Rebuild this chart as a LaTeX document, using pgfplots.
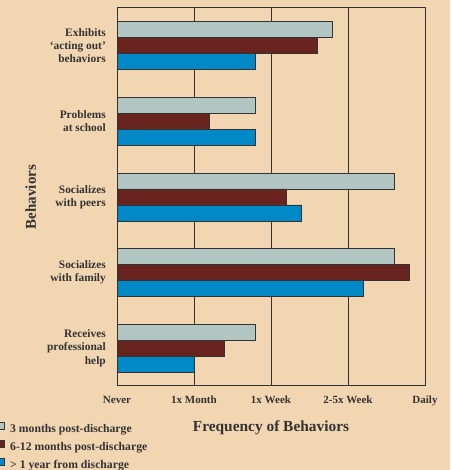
\documentclass[border=0pt]{standalone}
\usepackage{fontspec}
\setmainfont{Liberation Serif}
\usepackage{pgfplots}
\pgfplotsset{compat=1.18}
\definecolor{bg}{HTML}{F2D6B2}
\definecolor{lightb}{HTML}{B1C5C2}
\definecolor{maroonb}{HTML}{6A241F}
\definecolor{blueb}{HTML}{0089C6}
\definecolor{txt}{HTML}{333333}
\begin{document}
\begin{tikzpicture}[x=1pt,y=1pt]
\fill[bg] (0,0) rectangle (450,470);
\path[use as bounding box] (0,0) rectangle (450,470);
\begin{axis}[
  at={(117pt,84pt)}, anchor=south west,
  width=308pt, height=378pt, scale only axis,
  xmin=0, xmax=4, ymin=-0.5, ymax=4.5,
  xbar, bar width=16pt,
  xtick={0,1,2,3,4},
  xticklabels={Never,1x Month,1x Week,2-5x Week,Daily},
  ytick={0,1,2,3,4},
  yticklabels={{Receives\\professional\\help},{Socializes\\with family},{Socializes\\with peers},{Problems\\at school},{Exhibits\\`acting out'\\behaviors}},
  major tick length=0pt,
  xmajorgrids,
  major grid style={color=txt, line width=0.9pt},
  axis line style={color=txt, line width=1pt},
  xticklabel style={anchor=base, yshift=-18pt, inner sep=0pt, font=\fontsize{11}{13}\selectfont\bfseries, text=txt},
  yticklabel style={anchor=east, align=right, inner sep=0pt, xshift=-11pt, font=\fontsize{11.4}{13.3}\selectfont\bfseries, text=txt},
  xlabel={Frequency of Behaviors},
  xlabel style={at={(axis description cs:0.5,-0.1204)}, anchor=base, font=\fontsize{15.4}{18}\selectfont\bfseries, text=txt},
  ylabel={Behaviors},
  ylabel style={at={(axis description cs:-0.263,0.5)}, anchor=base, font=\fontsize{15}{18}\selectfont\bfseries, text=txt},
  legend image code/.code={\draw[#1] (-3pt,0pt) rectangle (4pt,7pt); \path (9.3pt,0pt);},
  legend cell align=left,
  legend style={at={(axis description cs:-0.390,-0.095)}, anchor=north west, draw=none, fill=none,
    inner sep=0pt, row sep=5.5pt,
    nodes={inner sep=0pt, text height=8pt, text depth=2.5pt},
    font=\fontsize{11.7}{13}\selectfont\bfseries, text=txt},
]
\addplot[fill=lightb, draw=txt, line width=0.8pt, bar shift=16pt]
  coordinates {(2.8,4) (1.8,3) (3.6,2) (3.6,1) (1.8,0)};
\addplot[fill=maroonb, draw=txt, line width=0.8pt, bar shift=0pt]
  coordinates {(2.6,4) (1.2,3) (2.2,2) (3.8,1) (1.4,0)};
\addplot[fill=blueb, draw=txt, line width=0.8pt, bar shift=-16pt]
  coordinates {(1.8,4) (1.8,3) (2.4,2) (3.2,1) (1.0,0)};
\legend{3 months post-discharge, 6-12 months post-discharge, > 1 year from discharge}
\end{axis}
\end{tikzpicture}
\end{document}
